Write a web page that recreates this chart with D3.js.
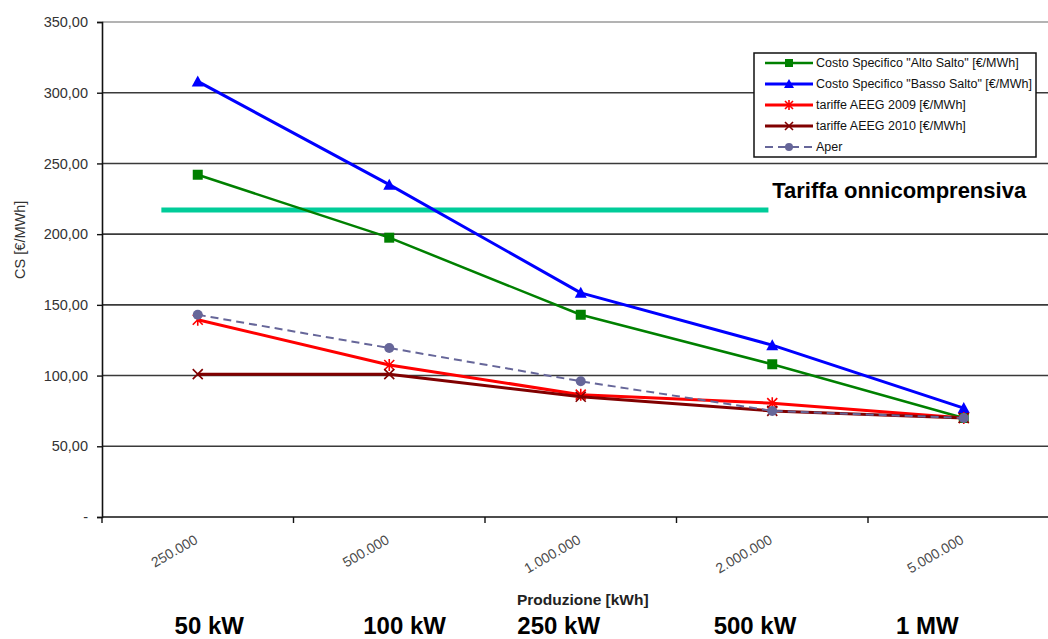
<!DOCTYPE html>
<html>
<head>
<meta charset="utf-8">
<script src="https://cdn.jsdelivr.net/npm/d3@7"></script>
<style>
  html, body { margin: 0; padding: 0; background: #fff; }
  svg { display: block; font-family: "Liberation Sans", Arial, sans-serif; }
</style>
</head>
<body>
<svg id="chart" width="1048" height="639"></svg>
<script>
// Produzione annua (kWh) per classe di potenza
const categories = ["250.000", "500.000", "1.000.000", "2.000.000", "5.000.000"];
const powerLabels = ["50 kW", "100 kW", "250 kW", "500 kW", "1 MW"];

// Costo specifico e tariffe [€/MWh]
const altoSalto  = [242, 197.5, 143, 108, 70];
const bassoSalto = [308, 235, 158.5, 121.5, 77];
const aeeg2009   = [139.5, 107.5, 86.5, 80.5, 70];
const aeeg2010   = [101, 101, 85, 75, 70];
const aper       = [143, 119.5, 96, 75, 70];

// Tariffa onnicomprensiva [€/MWh]
const tariffaOnnicomprensiva = 217;

const yTicks = [0, 50, 100, 150, 200, 250, 300, 350];

const FONT = "'Liberation Sans', Arial, sans-serif";

const series = [
  { name: 'Costo Specifico "Alto Salto" [€/MWh]',  values: altoSalto,  color: "#008000", width: 2.5, marker: "square" },
  { name: 'Costo Specifico "Basso Salto" [€/MWh]', values: bassoSalto, color: "#0000ff", width: 3,   marker: "triangle" },
  { name: "tariffe AEEG 2009 [€/MWh]",             values: aeeg2009,   color: "#ff0000", width: 3,   marker: "star" },
  { name: "tariffe AEEG 2010 [€/MWh]",             values: aeeg2010,   color: "#800000", width: 3,   marker: "x" },
  { name: "Aper",                                  values: aper,       color: "#666699", width: 2,   marker: "circle", dash: "8,5" }
];

const svg = d3.select("#chart");

const plot = { left: 102, right: 1059.5, top: 22, bottom: 517 };

const x = d3.scalePoint().domain(categories).range([plot.left, plot.right]).padding(0.5);
const step = x.step();
const y = d3.scaleLinear().domain([0, 350]).range([plot.bottom, plot.top]);

// horizontal gridlines
svg.append("g").selectAll("line")
  .data(yTicks.filter(v => v > 0))
  .join("line")
  .attr("x1", plot.left).attr("x2", plot.right)
  .attr("y1", d => y(d)).attr("y2", d => y(d))
  .attr("stroke", d => d === 350 ? "#9a9a9a" : "#3a3a3a")
  .attr("stroke-width", 1.6);

// y axis
const yAxis = d3.axisLeft(y)
  .tickValues(yTicks)
  .tickSize(5)
  .tickFormat(d => d === 0 ? "-" : d3.format(".2f")(d).replace(".", ","));
const gy = svg.append("g").attr("transform", `translate(${plot.left},0)`).call(yAxis)
  .attr("font-family", FONT);
gy.select(".domain").attr("stroke", "#111").attr("stroke-width", 1.6);
gy.selectAll(".tick line").attr("stroke", "#111").attr("stroke-width", 1.4);
gy.selectAll(".tick text")
  .attr("x", -14)
  .attr("font-size", 14.5)
  .attr("fill", "#333");

// x axis with ticks at category boundaries
const bounds = categories.map(c => x(c) - step / 2);
const gx = svg.append("g");
gx.append("line")
  .attr("x1", plot.left).attr("x2", plot.right)
  .attr("y1", plot.bottom).attr("y2", plot.bottom)
  .attr("stroke", "#111").attr("stroke-width", 1.6);
gx.selectAll("line.tk").data(bounds).join("line").attr("class", "tk")
  .attr("x1", d => d).attr("x2", d => d)
  .attr("y1", plot.bottom).attr("y2", plot.bottom + 6)
  .attr("stroke", "#111").attr("stroke-width", 1.4);
gx.selectAll("text").data(categories).join("text")
  .attr("transform", d => `translate(${x(d) - 4},${plot.bottom + 17}) rotate(-30)`)
  .attr("text-anchor", "end")
  .attr("dy", "0.7em")
  .attr("font-size", 14)
  .attr("fill", "#4a4a4a")
  .text(d => d);

// axis titles
svg.append("text")
  .attr("transform", `translate(25,${y(196)}) rotate(-90)`)
  .attr("text-anchor", "middle")
  .attr("font-size", 14.5)
  .attr("fill", "#333")
  .text("CS [€/MWh]");

svg.append("text")
  .attr("x", x(categories[2]) + 2).attr("y", 605)
  .attr("text-anchor", "middle")
  .attr("font-size", 15.5)
  .attr("font-weight", 600)
  .attr("fill", "#222")
  .text("Produzione [kWh]");

// installed power under each production class
const powerOffsets = [0.06, 0.08, -0.115, -0.09, -0.19];
svg.append("g").selectAll("text").data(powerLabels).join("text")
  .attr("x", (d, i) => x(categories[i]) + powerOffsets[i] * step)
  .attr("y", 634)
  .attr("text-anchor", "middle")
  .attr("font-size", 24)
  .attr("font-weight", "bold")
  .attr("fill", "#000")
  .text(d => d);

// tariffa onnicomprensiva reference line
svg.append("line")
  .attr("x1", x(categories[0]) - 0.19 * step)
  .attr("x2", x(categories[3]) - 0.02 * step)
  .attr("y1", y(tariffaOnnicomprensiva)).attr("y2", y(tariffaOnnicomprensiva))
  .attr("stroke", "#00cc99").attr("stroke-width", 5);
svg.append("text")
  .attr("x", x(categories[3]))
  .attr("y", y(tariffaOnnicomprensiva) - 12)
  .attr("font-size", 22)
  .attr("font-weight", "bold")
  .attr("fill", "#000")
  .text("Tariffa onnicomprensiva");

// marker drawing
function drawMarker(g, type, color, cx, cy, scale = 1) {
  const s = 5 * scale;
  if (type === "square") {
    g.append("rect").attr("x", cx - s).attr("y", cy - s).attr("width", 2 * s).attr("height", 2 * s).attr("fill", color);
  } else if (type === "triangle") {
    g.append("path").attr("d", `M${cx},${cy - s - 1}L${cx + s + 1},${cy + s}L${cx - s - 1},${cy + s}Z`).attr("fill", color);
  } else if (type === "circle") {
    g.append("circle").attr("cx", cx).attr("cy", cy).attr("r", s).attr("fill", color);
  } else if (type === "x") {
    g.append("path").attr("d", `M${cx - s},${cy - s}L${cx + s},${cy + s}M${cx - s},${cy + s}L${cx + s},${cy - s}`)
      .attr("stroke", color).attr("stroke-width", 1.6).attr("fill", "none");
  } else if (type === "star") {
    g.append("path").attr("d", `M${cx - s},${cy - s}L${cx + s},${cy + s}M${cx - s},${cy + s}L${cx + s},${cy - s}M${cx},${cy - s - 1}L${cx},${cy + s + 1}`)
      .attr("stroke", color).attr("stroke-width", 1.6).attr("fill", "none");
  }
}

const line = d3.line().x((d, i) => x(categories[i])).y(d => y(d));

series.forEach(s => {
  const g = svg.append("g");
  g.append("path")
    .datum(s.values)
    .attr("d", line)
    .attr("fill", "none")
    .attr("stroke", s.color)
    .attr("stroke-width", s.width)
    .attr("stroke-dasharray", s.dash || null)
    .attr("stroke-linejoin", "round");
  s.values.forEach((v, i) => drawMarker(g, s.marker, s.color, x(categories[i]), y(v)));
});

// legend
const legend = svg.append("g");
const lg = { x: 754, y: 53, w: 282, h: 104, row: 21 };
legend.append("rect")
  .attr("x", lg.x).attr("y", lg.y).attr("width", lg.w).attr("height", lg.h)
  .attr("fill", "#fff").attr("stroke", "#111").attr("stroke-width", 1.5);
series.forEach((s, i) => {
  const cy = lg.y + 10 + i * lg.row;
  const g = legend.append("g");
  g.append("line")
    .attr("x1", lg.x + 11).attr("x2", lg.x + 59)
    .attr("y1", cy).attr("y2", cy)
    .attr("stroke", s.color).attr("stroke-width", s.width)
    .attr("stroke-dasharray", s.dash || null);
  drawMarker(g, s.marker, s.color, lg.x + 35, cy, 0.8);
  g.append("text")
    .attr("x", lg.x + 62).attr("y", cy)
    .attr("dy", "0.35em")
    .attr("font-size", 12.5)
    .attr("fill", "#111")
    .text(s.name);
});
</script>
</body>
</html>
